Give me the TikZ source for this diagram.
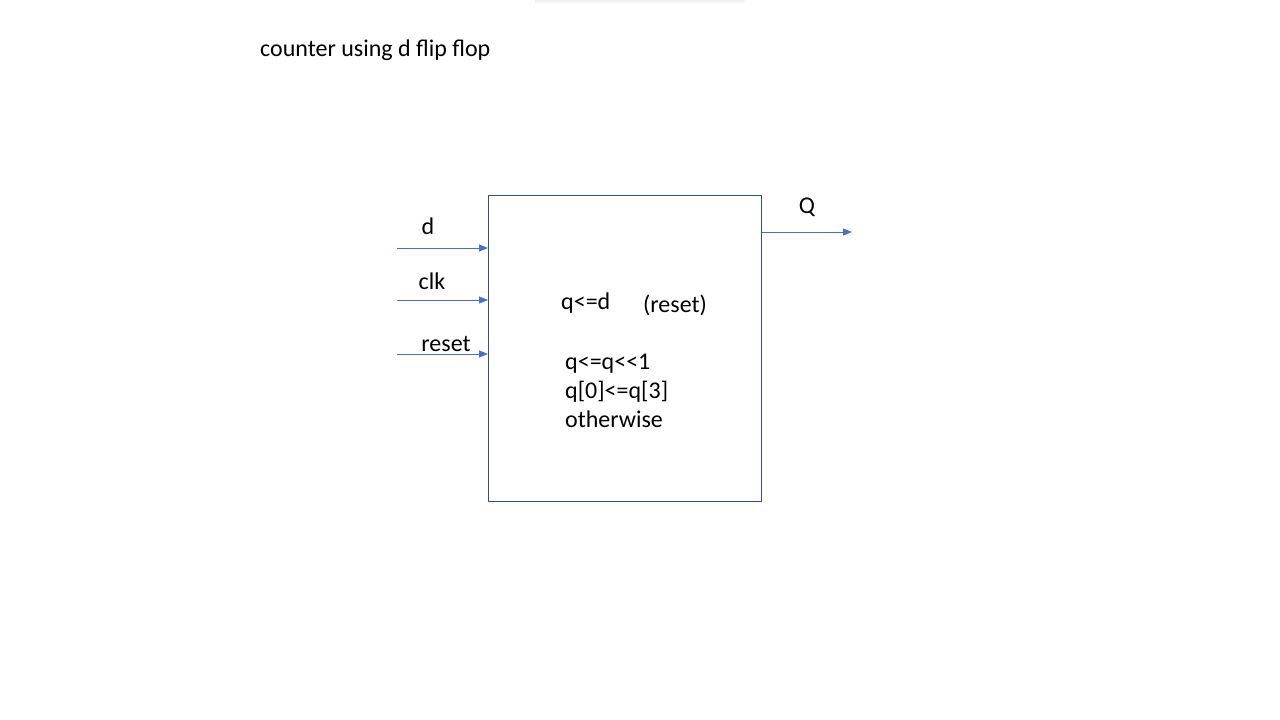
\documentclass[tikz,border=0pt]{standalone}
\usepackage{fontspec}
\setmainfont{Carlito}
\usetikzlibrary{arrows.meta}
\definecolor{wire}{HTML}{4472C4}
\definecolor{boxline}{HTML}{2F528F}
\begin{document}
\begin{tikzpicture}[x=1pt,y=-1pt,
  lbl/.style={font=\fontsize{24}{29}\selectfont, inner sep=0pt, text=black},
  wirearrow/.style={draw=wire, line width=1pt, -{Triangle[length=9pt,width=7pt]}},
  blockbox/.style={draw=boxline, line width=0.9pt, minimum width=273pt, minimum height=306pt, inner sep=0pt}]
\useasboundingbox (0,0) rectangle (1280,720);
\shade[top color=gray!12, bottom color=white] (535,0) rectangle (745,4);
\node[lbl, anchor=west] (title) at (260,50) {counter using d flip flop};
\node[blockbox, anchor=north west] (blk) at (488,195) {};
\coordinate (din) at (397,248);
\coordinate (clkin) at (397,300);
\coordinate (rstin) at (397,354);
\coordinate (qout) at (852,232);
\draw[wirearrow] (din) -- (din -| blk.west);
\draw[wirearrow] (clkin) -- (clkin -| blk.west);
\draw[wirearrow] (rstin) -- (rstin -| blk.west);
\draw[wirearrow] (qout -| blk.east) -- (qout);
\node[lbl] (dl) at (428,226) {d};
\node[lbl] (clkl) at (432,281) {clk};
\node[lbl] (rstl) at (446,344) {reset};
\node[lbl] (ql) at (807,207) {Q};
\node[lbl, anchor=west] (qd) at (561,303) {q<=d};
\node[lbl] (rs) at (675,305) {(reset)};
\node[lbl, anchor=north west, align=left] (oth) at (565,354) {q<=q<{}<1\\q[0]<=q[3]\\otherwise};
\end{tikzpicture}
\end{document}
